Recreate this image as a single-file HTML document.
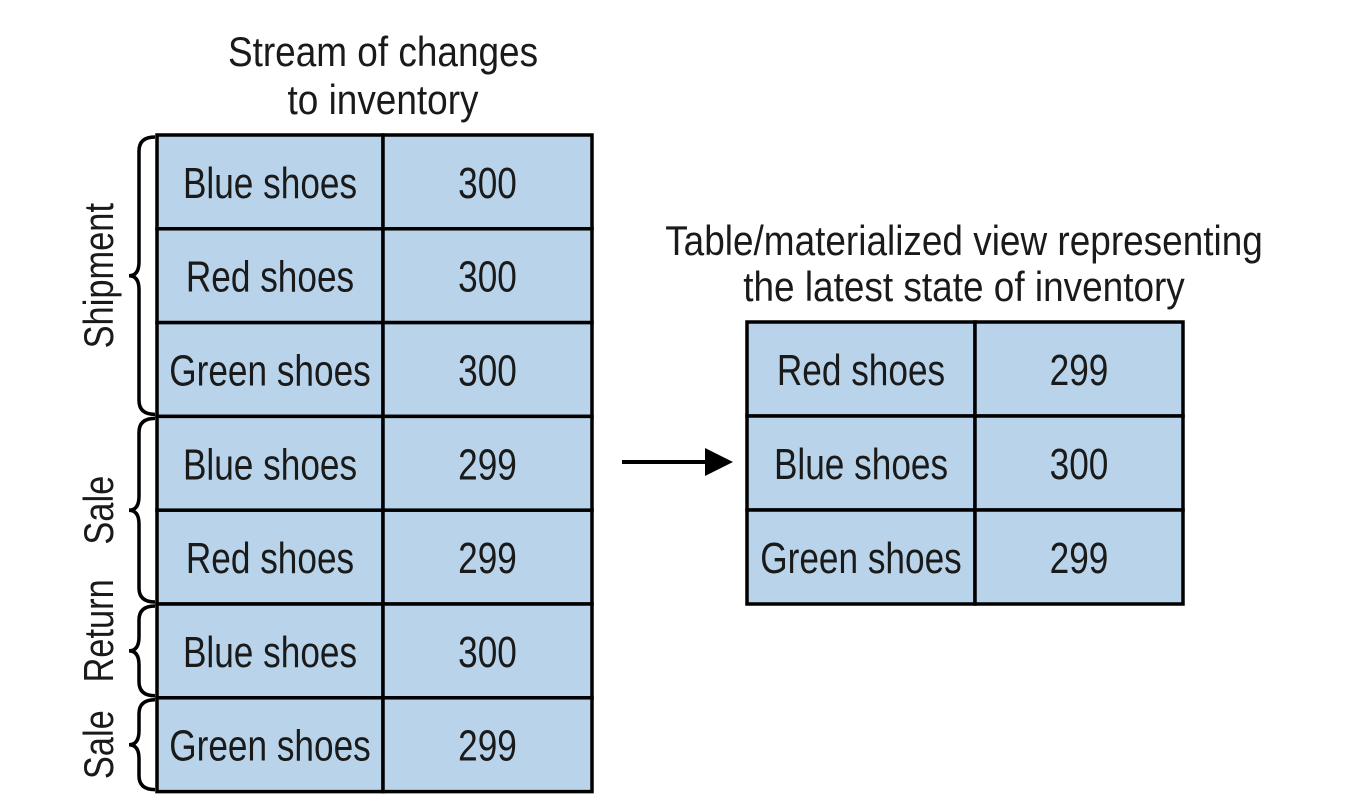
<!DOCTYPE html>
<html><head><meta charset="utf-8"><style>
html,body{margin:0;padding:0;background:#fff;}
svg{display:block;}
text{font-family:"Liberation Sans Narrow","Liberation Sans",sans-serif;fill:#1a1a1a;}
</style></head><body>
<svg id="diagram" width="1346" height="806" viewBox="0 0 1346 806" xmlns="http://www.w3.org/2000/svg">
<text font-size="42" text-anchor="middle" transform="translate(383,66) scale(0.88,1)">Stream of changes</text>
<text font-size="42" text-anchor="middle" transform="translate(383,114) scale(0.88,1)">to inventory</text>
<text font-size="42" text-anchor="middle" transform="translate(964,255) scale(0.88,1)">Table/materialized view representing</text>
<text font-size="42" text-anchor="middle" transform="translate(964,301) scale(0.88,1)">the latest state of inventory</text>
<g id="stream"></g>
<g id="table"></g>
<g id="braces"></g>
<g>
<line x1="622" y1="462" x2="710" y2="462" stroke="#000" stroke-width="4"/>
<polygon points="733,462 705,448 705,476" fill="#000"/>
</g>
</svg>
<script>
const streamItems=["Blue shoes","Red shoes","Green shoes","Blue shoes","Red shoes","Blue shoes","Green shoes"];
const streamValues=["300","300","300","299","299","300","299"];
const tableItems=["Red shoes","Blue shoes","Green shoes"];
const tableValues=["299","300","299"];
const groupLabels=["Shipment","Sale","Return","Sale"];
const groupSizes=[3,2,1,1];
const NS="http://www.w3.org/2000/svg";
function mk(tag,attrs,parent){const e=document.createElementNS(NS,tag);for(const k in attrs)e.setAttribute(k,attrs[k]);parent.appendChild(e);return e;}
function drawTable(g,items,vals,x0,y0,c1,c2,rh,prefix){
  items.forEach((it,i)=>{
    const y=y0+i*rh;
    const r1=mk('rect',{x:x0,y:y,width:c1,height:rh,fill:'#b9d4ea',stroke:'#000','stroke-width':3.5},g);
    
    
    const r2=mk('rect',{x:x0+c1,y:y,width:c2,height:rh,fill:'#b9d4ea',stroke:'#000','stroke-width':3.5},g);
    
    
    const t1=mk('text',{'font-size':44,'text-anchor':'middle',transform:`translate(${x0+c1/2},${y+rh/2+16}) scale(0.8,1)`},g);t1.textContent=it;
    
    
    const t2=mk('text',{'font-size':44,'text-anchor':'middle',transform:`translate(${x0+c1+c2/2},${y+rh/2+16}) scale(0.8,1)`},g);t2.textContent=vals[i];
    
    
  });
}
const RH=93.8;
drawTable(document.getElementById('stream'),streamItems,streamValues,157,135,226,209,RH,'stream');
drawTable(document.getElementById('table'),tableItems,tableValues,747,322,228,208,94,'table');
const bg=document.getElementById('braces');
const labelShift=[0,0,-20,0];
let start=0;
groupSizes.forEach((n,gi)=>{
  const y1=135+start*RH+2, y2=135+(start+n)*RH-2, mid=(y1+y2)/2;
  const c=Math.min(14,(y2-y1)/5);
  const d=`M155,${y1} Q139,${y1} 139,${y1+c} L139,${mid-c} Q139,${mid} 129,${mid} Q139,${mid} 139,${mid+c} L139,${y2-c} Q139,${y2} 155,${y2}`;
  const p=mk('path',{d:d,fill:'none',stroke:'#000','stroke-width':3.5},bg);
  
  
  const t=mk('text',{x:0,y:0,'font-size':42,'text-anchor':'middle',transform:`translate(113,${mid+labelShift[gi]}) rotate(-90) scale(0.82,1)`},bg);
  t.textContent=groupLabels[gi];
  
  
  start+=n;
});
</script>
</body></html>
